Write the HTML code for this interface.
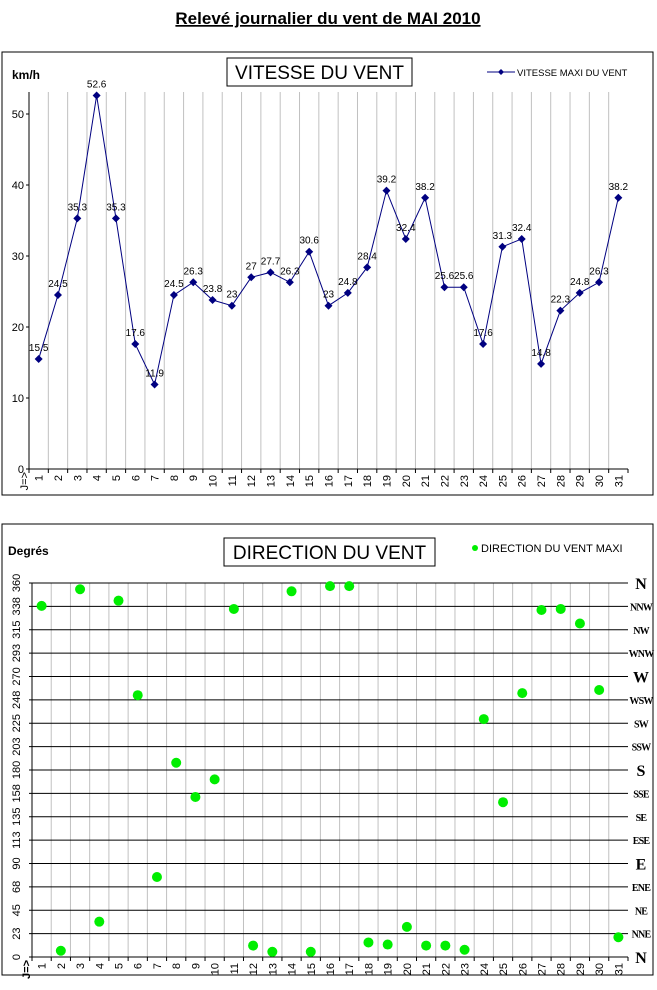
<!DOCTYPE html>
<html><head><meta charset="utf-8"><style>
html,body{margin:0;padding:0;background:#fff;}
body{width:657px;height:990px;overflow:hidden;font-family:"Liberation Sans",sans-serif;}
svg{position:absolute;left:0;top:0;}
</style></head><body>
<svg id="svg" width="657" height="990" xmlns="http://www.w3.org/2000/svg">
<text x="328" y="24" text-anchor="middle" font-size="17" font-weight="bold" text-decoration="underline" font-family="Liberation Sans">Relevé journalier du vent de MAI 2010</text>
<rect x="2" y="52" width="651" height="443" fill="none" stroke="#000" stroke-width="1"/>
<rect x="227" y="58" width="185" height="28" fill="#fff" stroke="#000"/>
<text x="319.5" y="79" text-anchor="middle" font-size="19">VITESSE DU VENT</text>
<text x="12" y="79" font-size="12" font-weight="bold">km/h</text>
<line x1="487" y1="72" x2="515" y2="72" stroke="#000080"/>
<path d="M501,69 L504,72 L501,75 L498,72Z" fill="#000080"/>
<text x="517" y="76" font-size="9.5">VITESSE MAXI DU VENT</text>
<g id="gtop"></g>
<rect x="2" y="524" width="651" height="451" fill="none" stroke="#000" stroke-width="1"/>
<rect x="224" y="538" width="211" height="28" fill="#fff" stroke="#000"/>
<text x="329.5" y="559" text-anchor="middle" font-size="19">DIRECTION DU VENT</text>
<text x="8" y="555" font-size="12" font-weight="bold">Degrés</text>
<circle cx="475" cy="548" r="3" fill="#00ee00"/>
<text x="481" y="552" font-size="11">DIRECTION DU VENT MAXI</text>
<g id="gbot"></g>
</svg>
<script>
const days = ["1","2","3","4","5","6","7","8","9","10","11","12","13","14","15","16","17","18","19","20","21","22","23","24","25","26","27","28","29","30","31"];
const speedValues = [15.5,24.5,35.3,52.6,35.3,17.6,11.9,24.5,26.3,23.8,23,27,27.7,26.3,30.6,23,24.8,28.4,39.2,32.4,38.2,25.6,25.6,17.6,31.3,32.4,14.8,22.3,24.8,26.3,38.2];
const speedTicks = [0,10,20,30,40,50];
const directionValues = [338,6,354,34,343,252,77,187,154,171,335,11,5,352,5,357,357,14,12,29,11,11,7,229,149,254,334,335,321,257,19];
const dirTicks = ["0","23","45","68","90","113","135","158","180","203","225","248","270","293","315","338","360"];
const dirNames = ["N","NNE","NE","ENE","E","ESE","SE","SSE","S","SSW","SW","WSW","W","WNW","NW","NNW","N"];
const NS="http://www.w3.org/2000/svg";
function mk(parent,tag,attrs,txt){const e=document.createElementNS(NS,tag);for(const k in attrs)e.setAttribute(k,attrs[k]);if(txt!==undefined)e.textContent=txt;parent.appendChild(e);return e;}
// top chart
const gTop=document.getElementById('gtop');
const tL=29,tR=628,tB=469,tT=114;
const tStep=(tR-tL)/days.length;
const tx=i=>tL+(i+0.5)*tStep;
const ty=v=>tB-(v/50)*(tB-tT);
for(let i=1;i<days.length;i++){
 const l=mk(gTop,'line',{x1:tL+i*tStep,x2:tL+i*tStep,y1:92,y2:tB,stroke:'#c0c0c0'});
 
 
}
let ax=mk(gTop,'line',{x1:tL,x2:tL,y1:92,y2:tB,stroke:'#000'});


ax=mk(gTop,'line',{x1:tL,x2:tR,y1:tB,y2:tB,stroke:'#000'});


speedTicks.forEach(v=>{
 mk(gTop,'line',{x1:tL-3,x2:tL,y1:ty(v),y2:ty(v),stroke:'#000'});
 const t=mk(gTop,'text',{x:tL-5,y:ty(v)+4,'text-anchor':'end','font-size':11},String(v));
 
 
});
for(let i=0;i<=days.length;i++) mk(gTop,'line',{x1:tL+i*tStep,x2:tL+i*tStep,y1:tB,y2:tB+4,stroke:'#000'});
let jl=mk(gTop,'text',{x:0,y:0,'font-size':11,'text-anchor':'end',transform:`translate(${tL-1},${tB+3}) rotate(-90)`},'J=>');


days.forEach((d,i)=>{
 const t=mk(gTop,'text',{x:0,y:0,'font-size':11,'text-anchor':'end',transform:`translate(${tx(i)+4},${tB+6}) rotate(-90)`},d);
 
 
});
const pl=mk(gTop,'polyline',{points:speedValues.map((v,i)=>tx(i)+','+ty(v)).join(' '),fill:'none',stroke:'#000080','stroke-width':1});


speedValues.forEach((v,i)=>{
 const x=tx(i),y=ty(v);
 const p=mk(gTop,'path',{d:`M${x},${y-4}L${x+4},${y}L${x},${y+4}L${x-4},${y}Z`,fill:'#000080'});
 
 
 const t=mk(gTop,'text',{x:x,y:y-8,'text-anchor':'middle','font-size':10},String(v));
 
 
});
// bottom chart
const gBot=document.getElementById('gbot');
const bL=32,bR=628,bB=957,bT=583;
const bStep=(bR-bL)/days.length;
const bx=i=>bL+(i+0.5)*bStep;
const by=v=>bB-(v/360)*(bB-bT);
for(let i=1;i<days.length;i++){
 const l=mk(gBot,'line',{x1:bL+i*bStep,x2:bL+i*bStep,y1:bT,y2:bB,stroke:'#c0c0c0'});
 
 
}
dirTicks.forEach((lab,k)=>{
 const y=bB-k*(bB-bT)/16;
 const l=mk(gBot,'line',{x1:bL-3,x2:bR,y1:y,y2:y,stroke:'#000'});
 
 
 const t=mk(gBot,'text',{x:0,y:0,'font-size':11,'text-anchor':'middle',transform:`translate(${bL-12},${y}) rotate(-90)`},lab);
 
 
 const nm=dirNames[k];const big=nm.length===1;
 const c=mk(gBot,'text',{x:641,y:y+(big?6:4),'text-anchor':'middle','font-family':'Liberation Serif, serif','font-weight':'bold','font-size':big?16:10,'letter-spacing':big?0:-0.8},nm);
 
 
});
ax=mk(gBot,'line',{x1:bL,x2:bL,y1:bT,y2:bB,stroke:'#000'});


for(let i=0;i<=days.length;i++) mk(gBot,'line',{x1:bL+i*bStep,x2:bL+i*bStep,y1:bB,y2:bB+4,stroke:'#000'});
jl=mk(gBot,'text',{x:0,y:0,'font-size':11,'font-weight':'bold','text-anchor':'end',transform:`translate(${bL-2},${bB+3}) rotate(-90)`},'J=>');


days.forEach((d,i)=>{
 const t=mk(gBot,'text',{x:0,y:0,'font-size':11,'text-anchor':'end',transform:`translate(${bx(i)+4},${bB+6}) rotate(-90)`},d);
 
 
});
directionValues.forEach((v,i)=>{
 const c=mk(gBot,'circle',{cx:bx(i),cy:by(v),r:5,fill:'#00ee00'});
 
 
});
</script>
</body></html>
